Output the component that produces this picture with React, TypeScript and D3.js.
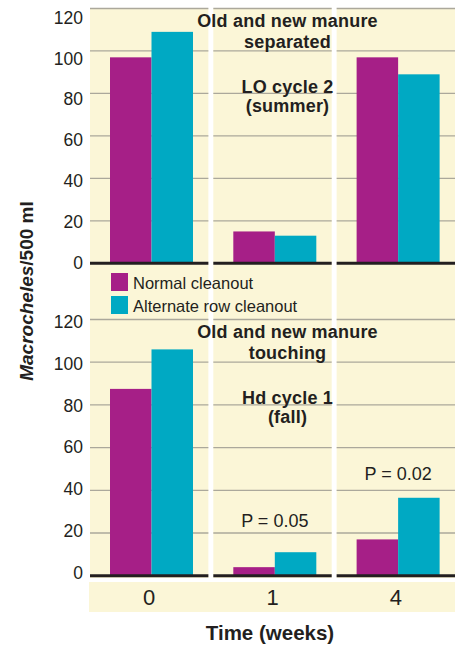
import * as d3 from 'd3'

const weeks = ['0', '1', '4']
const series = ['Normal cleanout', 'Alternate row cleanout']

// LO cycle 2 (summer), old and new manure separated
const separatedNormal = [97, 15, 97]
const separatedAlternate = [109, 13, 89]

// Hd cycle 1 (fall), old and new manure touching
const touchingNormal = [87.5, 4, 17]
const touchingAlternate = [106, 11, 36.5]

const yTicks = [0, 20, 40, 60, 80, 100, 120]

const separatedNotes = ['Old and new manure', 'separated', 'LO cycle 2', '(summer)']
const touchingNotes = ['Old and new manure', 'touching', 'Hd cycle 1', '(fall)']

const pWeeks = ['1', '4']
const pLabels = ['P = 0.05', 'P = 0.02']
const pAt = [23, 45]

const W = 455
const H = 646
const colors = ['#A61F87', '#00A9C3']
const bg = '#FBF6D7'
const grid = '#ABA89B'
const ink = '#231F20'
const font = '"Liberation Sans", Arial, sans-serif'

const x = d3.scaleBand().domain(weeks).range([90, 455]).paddingInner(0.04)
const inner = d3.scaleBand().domain(series).range([20, 103])

interface PanelProps {
  y: d3.ScaleLinear<number, number>
  yLabel: d3.ScaleLinear<number, number>
  normal: number[]
  alternate: number[]
  notes: string[]
}

function Panel({ y, yLabel, normal, alternate, notes }: PanelProps) {
  const top = y(120)
  const noteX = x('1')! + x.bandwidth() / 2 + 15
  const noteOffsets = [18.5, 39.5, 84, 103.5]
  return (
    <g>
      {yTicks.map(t => (
        <text key={t} x={83} y={yLabel(t) + 6.3} textAnchor="end"
          fontSize={17.5} fill={ink}>{t}</text>
      ))}
      {weeks.map((w, i) => {
        const x0 = x(w)!
        const vals = [normal[i], alternate[i]]
        return (
          <g key={w}>
            {yTicks.filter(t => t > 0).map(t => (
              <line key={t} x1={x0} x2={x0 + x.bandwidth()} y1={y(t)} y2={y(t)}
                stroke={grid} strokeWidth={1.3} />
            ))}
            {series.map((s, j) => (
              <rect key={s} x={x0 + inner(s)!} width={inner.bandwidth()}
                y={y(vals[j])} height={y(0) - y(vals[j])} fill={colors[j]} />
            ))}
            <line x1={x0} x2={x0 + x.bandwidth()} y1={y(0)} y2={y(0)}
              stroke={ink} strokeWidth={3} />
          </g>
        )
      })}
      {notes.map((n, i) => (
        <text key={i} x={noteX} y={top + noteOffsets[i]} textAnchor="middle"
          fontWeight="bold" fontSize={18} letterSpacing={0.2} fill={ink}>{n}</text>
      ))}
    </g>
  )
}

export default function App() {
  const yTop = d3.scaleLinear().domain([0, 120]).range([263.3, 8.5])
  const yTopLabel = d3.scaleLinear().domain([0, 120]).range([262.5, 17.5])
  const yBottom = d3.scaleLinear().domain([0, 120]).range([575.7, 319.5])
  const yBottomLabel = d3.scaleLinear().domain([0, 120]).range([572.5, 321.7])

  return (
    <svg width={W} height={H} fontFamily={font}
      style={{ position: 'absolute', left: 0, top: 0, background: '#fff' }}>
      {weeks.map(w => (
        <rect key={w} x={x(w)} y={yTop(120)} width={x.bandwidth()}
          height={578 - yTop(120)} fill={bg} />
      ))}
      <Panel y={yTop} yLabel={yTopLabel} normal={separatedNormal}
        alternate={separatedAlternate} notes={separatedNotes} />
      <Panel y={yBottom} yLabel={yBottomLabel} normal={touchingNormal}
        alternate={touchingAlternate} notes={touchingNotes} />

      {pWeeks.map((w, i) => (
        <text key={w} x={x(w)! + (inner.range()[0] + inner.range()[1]) / 2}
          y={yBottom(pAt[i])} textAnchor="middle" fontSize={18} fill={ink}>
          {pLabels[i]}
        </text>
      ))}

      {series.map((s, i) => (
        <g key={s} transform={`translate(111, ${273 + i * 23})`}>
          <rect width={17} height={18} fill={colors[i]} />
          <text x={22} y={15.5} fontSize={16.5} fill={ink}>{s}</text>
        </g>
      ))}

      <rect x={89} y={582} width={366} height={30} fill={bg} />
      {weeks.map(w => (
        <text key={w} x={x(w)! + x.bandwidth() / 2} y={605} textAnchor="middle"
          fontSize={22} fill={ink}>{w}</text>
      ))}

      <text x={270} y={640} textAnchor="middle" fontWeight="bold" fontSize={20.5}
        fill={ink}>Time (weeks)</text>
      <text transform="translate(33, 291) rotate(-90)" textAnchor="middle"
        fontWeight="bold" fontSize={19} fill={ink}>
        <tspan fontStyle="italic">Macrocheles</tspan>/500 ml
      </text>
    </svg>
  )
}
